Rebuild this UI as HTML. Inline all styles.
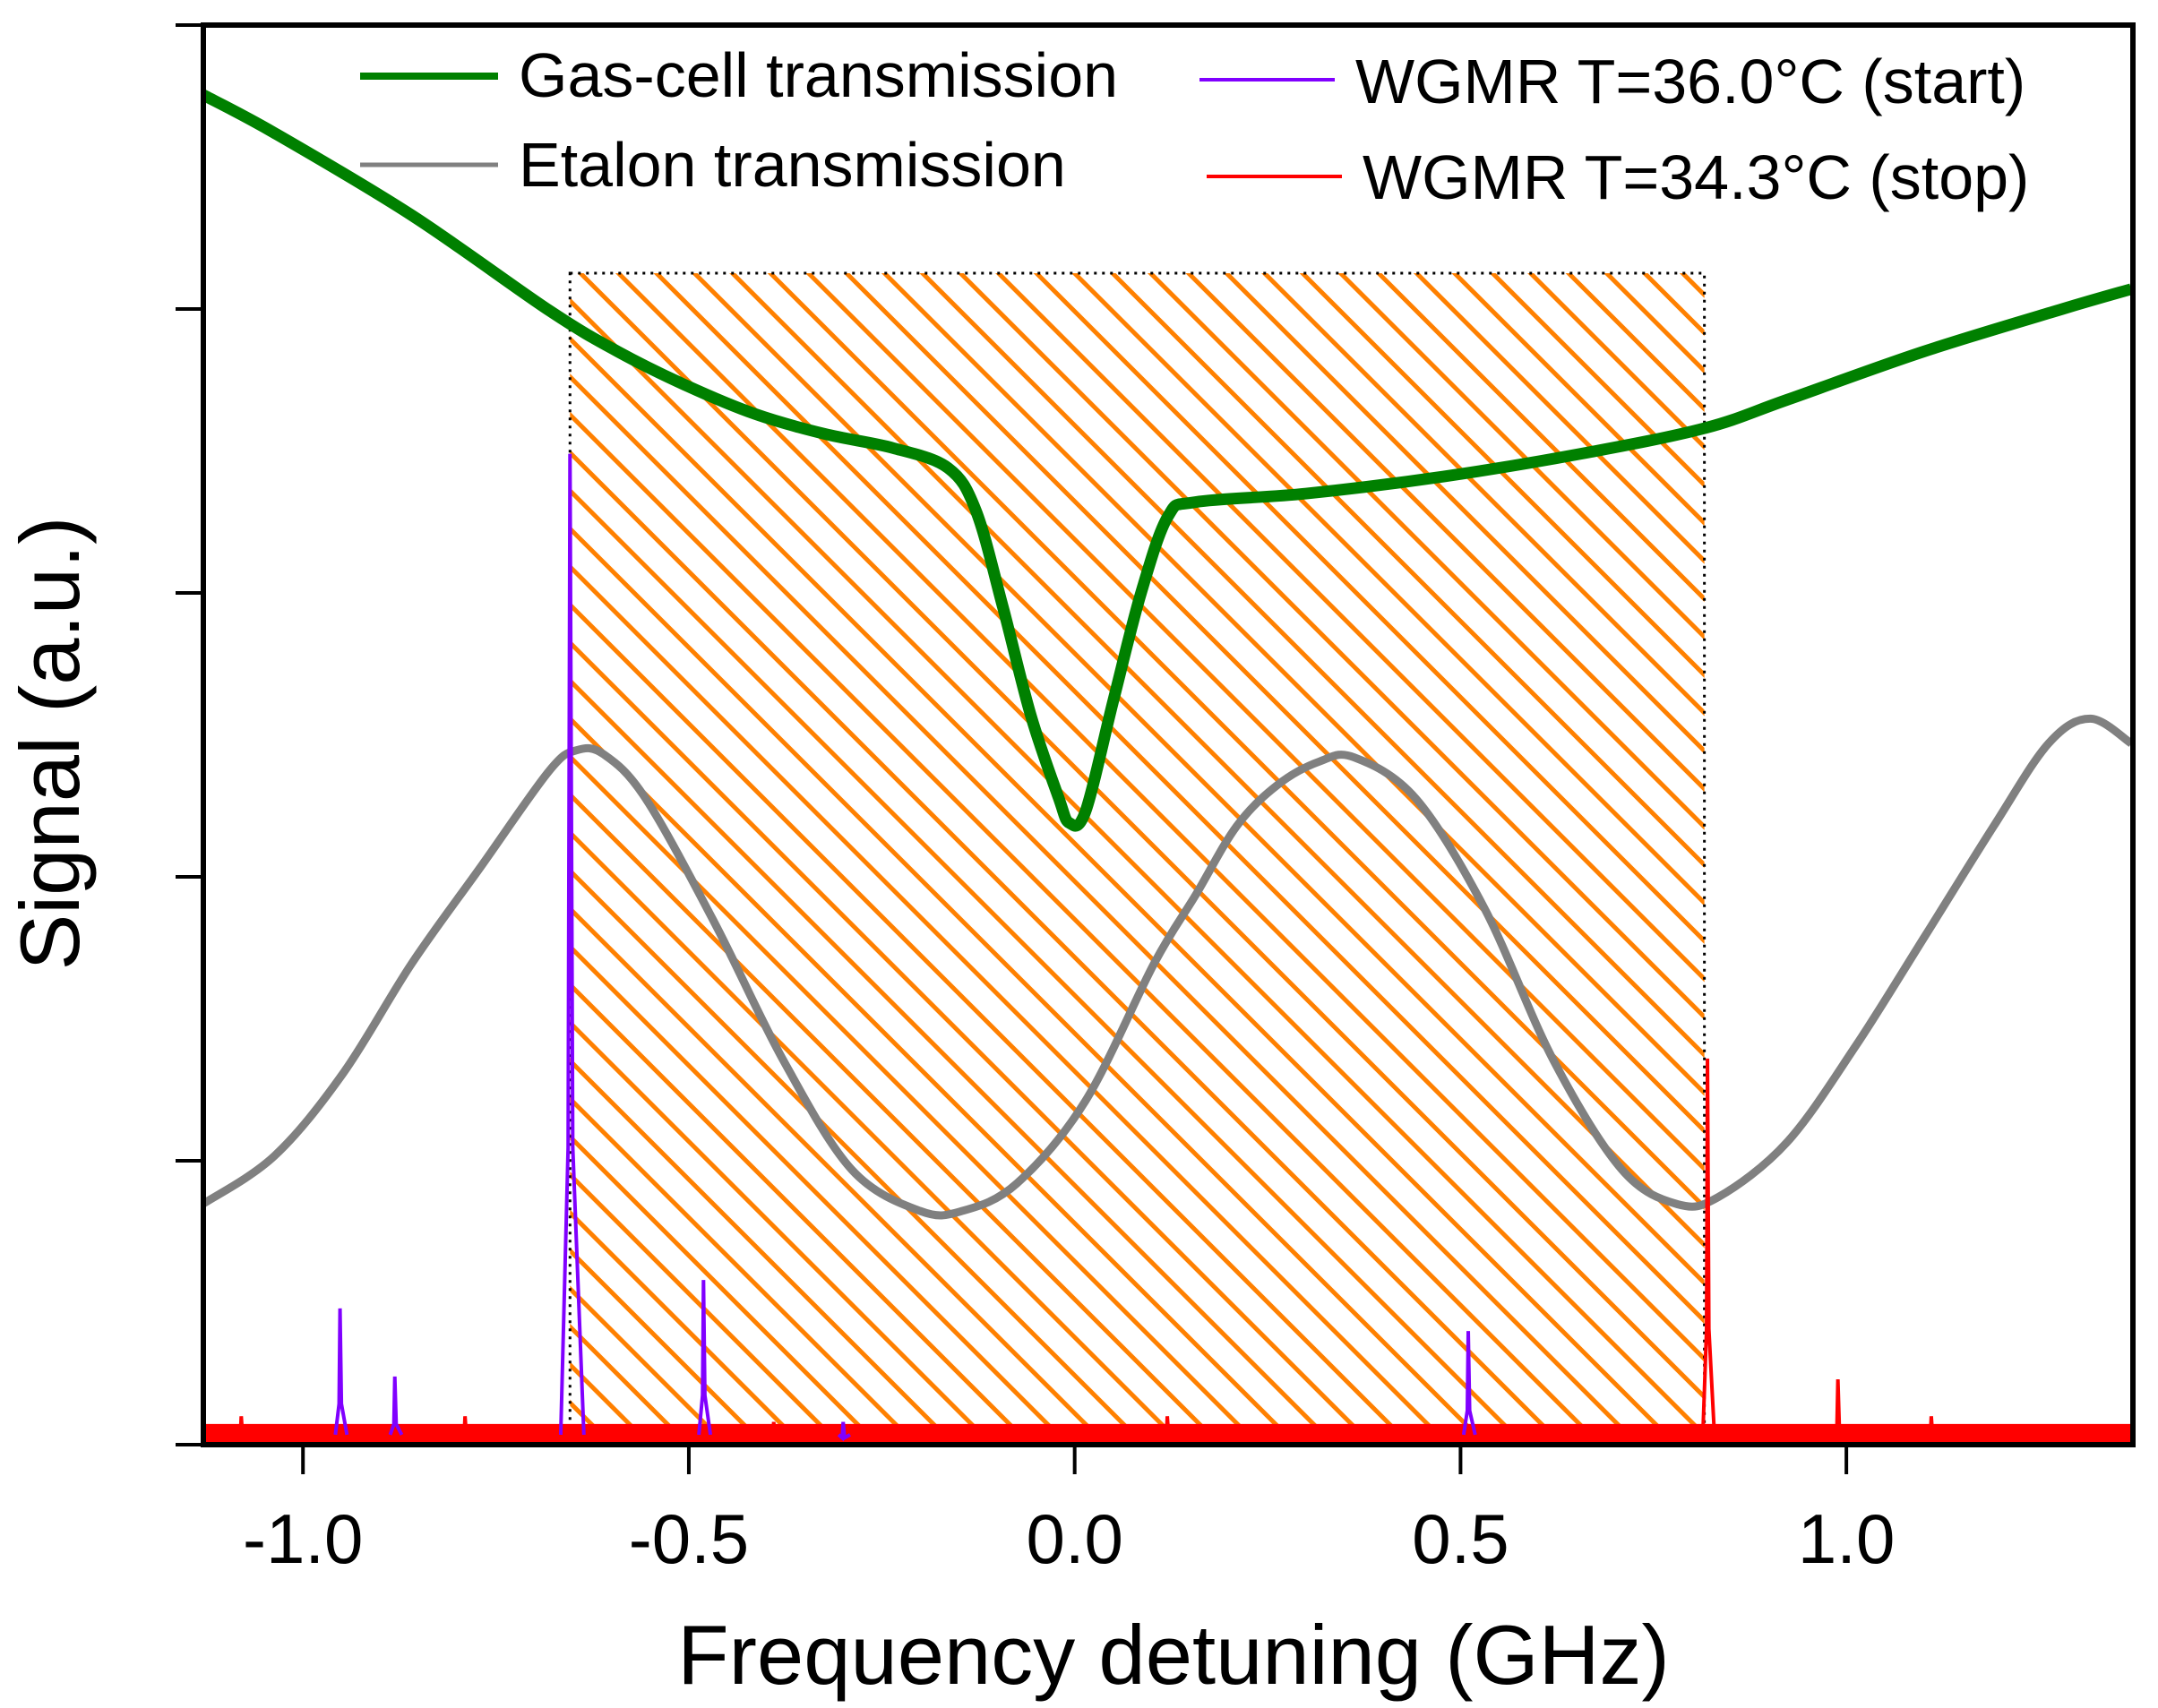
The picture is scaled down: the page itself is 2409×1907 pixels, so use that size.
<!DOCTYPE html>
<html><head><meta charset="utf-8"><style>
html,body{margin:0;padding:0;background:#fff;}
svg{display:block;font-family:"Liberation Sans",Arial,sans-serif;}
</style></head><body>
<svg id="chart" width="2409" height="1907" viewBox="0 0 2409 1907">
<defs>
<pattern id="hatch" patternUnits="userSpaceOnUse" width="30" height="30" patternTransform="rotate(-45)">
<rect x="0" y="0" width="5" height="30" fill="#ff8000"/>
</pattern>
<clipPath id="plotclip"><rect x="227" y="28" width="2154" height="1585"/></clipPath>
</defs>
<g id="plot" clip-path="url(#plotclip)"></g>
<g id="axes"></g>
<g id="legend">
<line x1="402" y1="85" x2="556" y2="85" stroke="#008000" stroke-width="8"/>
<text x="579" y="108" font-size="70">Gas-cell transmission</text>
<line x1="402" y1="184" x2="556" y2="184" stroke="#808080" stroke-width="5"/>
<text x="579" y="208" font-size="70">Etalon transmission</text>
<line x1="1339" y1="89" x2="1490" y2="89" stroke="#8000ff" stroke-width="4"/>
<text x="1513" y="115" font-size="70">WGMR T=36.0°C (start)</text>
<line x1="1347" y1="197" x2="1498" y2="197" stroke="#ff0000" stroke-width="4"/>
<text x="1521" y="222" font-size="70">WGMR T=34.3°C (stop)</text>
</g>
<text x="1310" y="1880" font-size="94" text-anchor="middle">Frequency detuning (GHz)</text>
<text transform="translate(88,830) rotate(-90)" font-size="94" text-anchor="middle">Signal (a.u.)</text>
</svg>
<script>
const xTicks=[-1.0,-0.5,0.0,0.5,1.0];
const xTickLabels=["-1.0","-0.5","0.0","0.5","1.0"];
const yTicks=[0,1,2,3,4,5];
const gasX=[-1.13,-1.037,-0.859,-0.681,-0.592,-0.503,-0.414,-0.324,-0.235,-0.164,-0.128,-0.093,-0.057,-0.021,-0.007,0.014,0.05,0.086,0.121,0.157,0.30,0.478,0.656,0.816,0.923,1.10,1.28,1.369];
const gasY=[4.755,4.62,4.33,3.995,3.85,3.73,3.63,3.56,3.51,3.44,3.29,2.95,2.57,2.28,2.19,2.23,2.62,3.0,3.27,3.32,3.35,3.41,3.49,3.58,3.68,3.85,4.0,4.07];
const etX=[-1.13,-1.037,-0.948,-0.859,-0.770,-0.681,-0.645,-0.610,-0.556,-0.467,-0.378,-0.289,-0.200,-0.146,-0.075,0.014,0.103,0.157,0.210,0.263,0.317,0.362,0.442,0.531,0.620,0.709,0.781,0.834,0.923,1.012,1.102,1.191,1.262,1.316,1.369];
const etY=[0.847,1.017,1.308,1.695,2.034,2.373,2.446,2.431,2.276,1.840,1.356,0.969,0.823,0.823,0.920,1.211,1.695,1.937,2.179,2.324,2.406,2.421,2.276,1.889,1.356,0.969,0.847,0.872,1.065,1.404,1.792,2.179,2.470,2.557,2.470];
const startPeakX=[-0.952,-0.881,-0.654,-0.481,0.51,-0.3];
const startPeakY=[0.48,0.24,3.49,0.58,0.40,0.08];
const stopPeakX=[0.820,0.989,-1.08,-0.79,-0.39,0.12,1.11];
const stopPeakY=[1.36,0.23,0.1,0.1,0.08,0.1,0.1];
const boxX=[-0.654,0.816];
const boxY=[0.04,4.126];
const baseY=0.035;

const X0=227,X1=2381,Y0=1613,Y1=28;
const xMin=-1.1291,xMax=1.3713,yMin=0,yMax=5;
function sx(v){return X0+(v-xMin)/(xMax-xMin)*(X1-X0);}
function sy(v){return Y0-(v-yMin)/(yMax-yMin)*(Y0-Y1);}
const NS="http://www.w3.org/2000/svg";
function mk(tag,attrs,parent){const e=document.createElementNS(NS,tag);for(const k in attrs)e.setAttribute(k,attrs[k]);parent.appendChild(e);return e;}
function smooth(xs,ys){const p=xs.map((x,i)=>[sx(x),sy(ys[i])]);let d="M"+p[0][0]+","+p[0][1];
for(let i=0;i<p.length-1;i++){const a=p[i-1]||p[i],b=p[i],c=p[i+1],e=p[i+2]||c;
const c1=[b[0]+(c[0]-a[0])/6,b[1]+(c[1]-a[1])/6],c2=[c[0]-(e[0]-b[0])/6,c[1]-(e[1]-b[1])/6];
d+=" C"+c1[0]+","+c1[1]+" "+c2[0]+","+c2[1]+" "+c[0]+","+c[1];}return d;}
const plot=document.getElementById('plot');
const axes=document.getElementById('axes');

const box=mk('rect',{x:sx(boxX[0]),y:sy(boxY[1]),width:sx(boxX[1])-sx(boxX[0]),height:sy(boxY[0])-sy(boxY[1]),fill:"url(#hatch)",stroke:"#000","stroke-width":3,"stroke-dasharray":"3,6"},plot);



const et=mk('path',{d:smooth(etX,etY),fill:"none",stroke:"#808080","stroke-width":9},plot);



const gas=mk('path',{d:smooth(gasX,gasY),fill:"none",stroke:"#008000","stroke-width":13},plot);



function peaks(xs,ys,color,name){
  xs.forEach((x,i)=>{
    const w=(ys[i]>2)?0.006:0.003;
    const d="M"+sx(x-w*2)+","+sy(baseY)+" L"+sx(x-w*0.4)+","+sy(ys[i]*0.3)+" L"+sx(x)+","+sy(ys[i])+" L"+sx(x+w*0.6)+","+sy(ys[i]*0.3)+" L"+sx(x+w*3)+","+sy(baseY);
    const p=mk('path',{d:d,fill:"none",stroke:color,"stroke-width":4},plot);
    
    
  });
}
const base=mk('line',{x1:sx(xMin),x2:sx(xMax),y1:sy(baseY),y2:sy(baseY),stroke:"#ff0000","stroke-width":24},plot);


peaks(startPeakX,startPeakY,"#8000ff","wgmr-start");
peaks(stopPeakX,stopPeakY,"#ff0000","wgmr-stop");

const frame=mk('rect',{x:X0,y:Y1,width:X1-X0,height:Y0-Y1,fill:"none",stroke:"#000","stroke-width":6},axes);


xTicks.forEach((v,i)=>{
  const t=mk('line',{x1:sx(v),x2:sx(v),y1:Y0,y2:Y0+33,stroke:"#000","stroke-width":4},axes);
  
  
  const l=mk('text',{x:sx(v),y:1745,"font-size":78,"text-anchor":"middle"},axes);
  l.textContent=xTickLabels[i];
  
  
});
yTicks.forEach(v=>{
  const t=mk('line',{x1:X0-31,x2:X0,y1:sy(v),y2:sy(v),stroke:"#000","stroke-width":4},axes);
  
  
});
</script>
</body></html>
